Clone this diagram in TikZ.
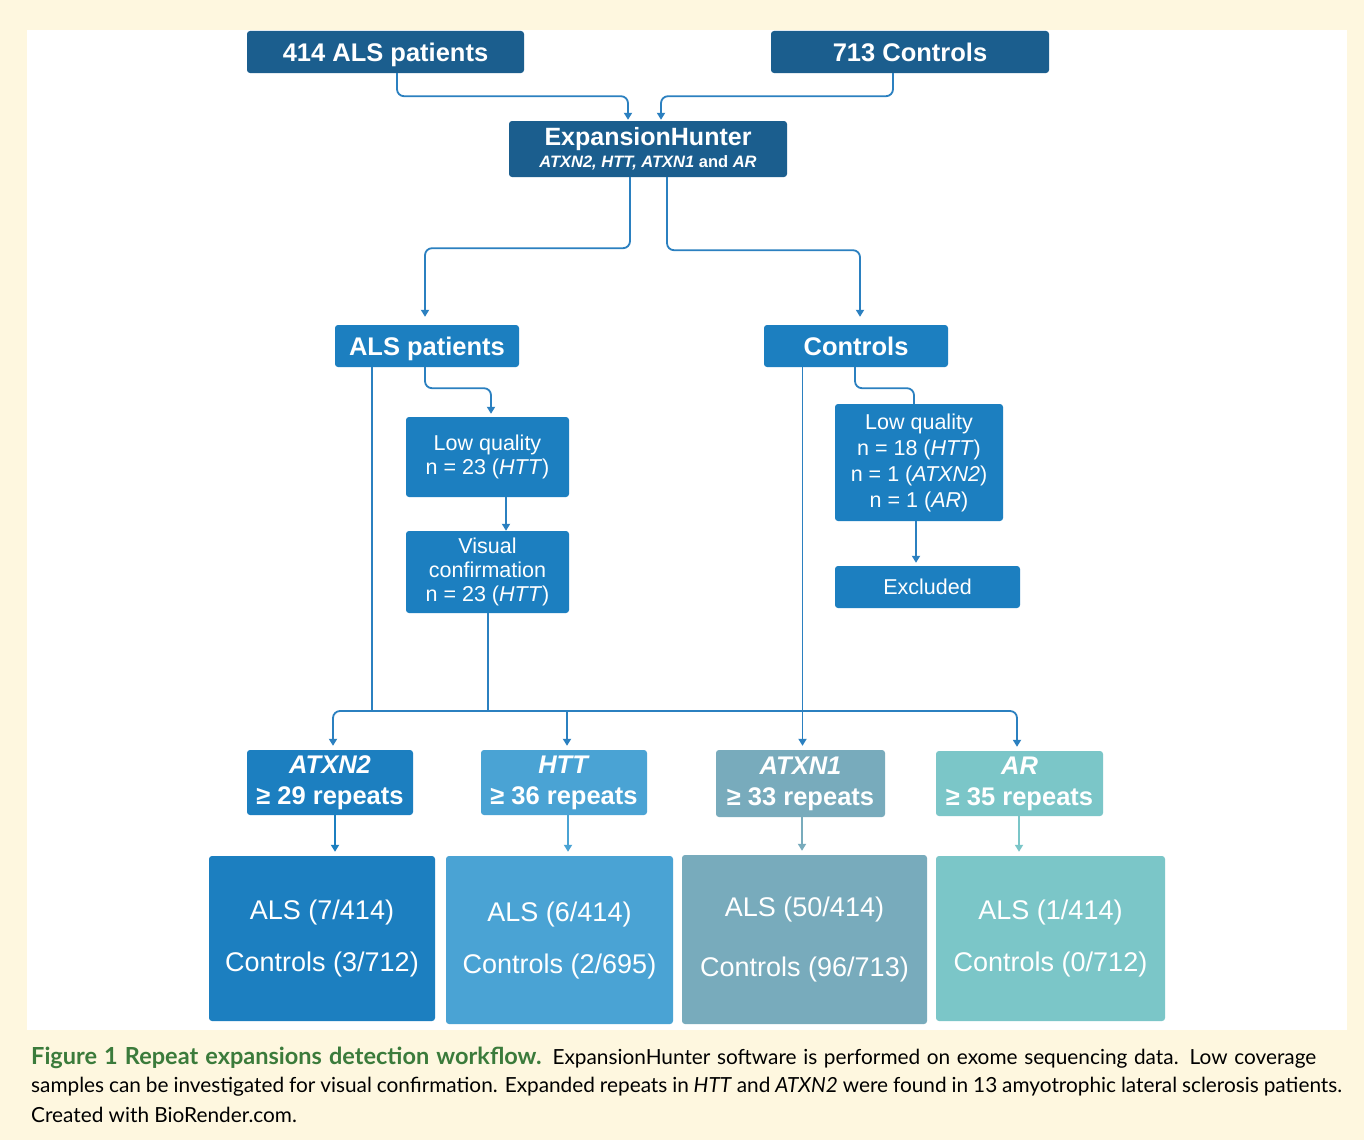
\documentclass[tikz,border=0pt]{standalone}
\usepackage{fontspec}
\setmainfont{Liberation Sans}
\newfontfamily\capfont{Lato}
\usetikzlibrary{arrows.meta}
\definecolor{cream}{HTML}{FEF7DF}
\definecolor{dblue}{HTML}{1B5E8E}
\definecolor{mblue}{HTML}{1C7FC0}
\definecolor{lblue}{HTML}{4AA3D4}
\definecolor{gteal}{HTML}{78ABBC}
\definecolor{lteal}{HTML}{7BC6C8}
\definecolor{capgreen}{HTML}{3B7B3B}
\definecolor{lineblue}{HTML}{2B80C0}
\tikzset{
  box/.style={fill=#1, draw=none, rounded corners=3pt, text=white, align=center, inner sep=0pt},
  conn/.style={draw=lineblue, line width=1.8pt, rounded corners=7pt},
  arr/.style={-{Triangle[width=8pt,length=7pt]}},
  hdr/.style={font=\fontsize{25.5}{30}\selectfont\bfseries, text height=18pt, text depth=0pt},
  small/.style={font=\fontsize{21.5}{#1}\selectfont},
  gene/.style={font=\fontsize{25.5}{31}\selectfont\bfseries},
  res/.style={font=\fontsize{27}{#1}\selectfont},
  capline/.style={anchor=west, inner sep=0pt, font=\capfont\fontsize{20.8}{24}\selectfont},
}
\begin{document}
\begin{tikzpicture}[x=1pt,y=-1pt]
\fill[cream] (0,0) rectangle (1364,1140);
\fill[white] (27,30) rectangle (1347,1030);
\useasboundingbox (0,0) rectangle (1364,1140);

% top
\node[box=dblue, hdr, minimum width=277pt, minimum height=42pt] (top1) at (385.5,52) {414 ALS patients};
\node[box=dblue, hdr, minimum width=278pt, minimum height=42pt] (top2) at (910,52) {713 Controls};
\node[box=dblue, minimum width=278pt, minimum height=56pt, font=\fontsize{25}{22}\selectfont\bfseries] (eh) at (648,149)
  {ExpansionHunter\\{\fontsize{16.5}{22}\selectfont\itshape ATXN2, HTT, ATXN1 \upshape and \itshape AR}};

% second level
\node[box=mblue, hdr, minimum width=184pt, minimum height=42pt] (als) at (427,346) {ALS patients};
\node[box=mblue, hdr, minimum width=184pt, minimum height=42pt] (ctl) at (856,346) {Controls};

\node[box=mblue, small=24, minimum width=163pt, minimum height=80pt] (lqa) at (487.5,457) {Low quality\\n = 23 (\textit{HTT})};
\node[box=mblue, small=24, minimum width=163pt, minimum height=82pt] (vis) at (487.5,572) {Visual\\confirmation\\n = 23 (\textit{HTT})};
\node[box=mblue, small=26, minimum width=168pt, minimum height=117pt] (lqc) at (919,462.5) {Low quality\\n = 18 (\textit{HTT})\\n = 1 (\textit{ATXN2})\\n = 1 (\textit{AR})};
\node[box=mblue, small=26, minimum width=185pt, minimum height=42pt] (exc) at (927.5,587) {Excluded};

% gene boxes
\node[box=mblue, gene, minimum width=166pt, minimum height=65pt] (g1) at (330,782.5) {\textit{ATXN2}\\≥ 29 repeats};
\node[box=lblue, gene, minimum width=166pt, minimum height=65pt] (g2) at (564,782.5) {\textit{HTT}\\≥ 36 repeats};
\node[box=gteal, gene, minimum width=169pt, minimum height=67pt] (g3) at (800.5,783.5) {\textit{ATXN1}\\≥ 33 repeats};
\node[box=lteal, gene, minimum width=167pt, minimum height=65pt] (g4) at (1019.5,783.5) {\textit{AR}\\≥ 35 repeats};

% result boxes
\node[box=mblue, res=52, minimum width=226pt, minimum height=165pt] (r1) at (322,938.5) {ALS (7/414)\\Controls (3/712)};
\node[box=lblue, res=52, minimum width=227pt, minimum height=168pt] (r2) at (559.5,940) {ALS (6/414)\\Controls (2/695)};
\node[box=gteal, res=60, minimum width=245pt, minimum height=169pt] (r3) at (804.5,939.5) {ALS (50/414)\\Controls (96/713)};
\node[box=lteal, res=52, minimum width=229pt, minimum height=165pt] (r4) at (1050.5,938.5) {ALS (1/414)\\Controls (0/712)};

% connectors top
\draw[conn, arr, shorten >=1pt] ([xshift=11.5pt]top1.south) -- ++(0,23) -| ([xshift=-20pt]eh.north);
\draw[conn, arr, shorten >=1pt] ([xshift=-17pt]top2.south) -- ++(0,23) -| ([xshift=13pt]eh.north);
\draw[conn, arr, shorten >=8pt] ([xshift=-18pt]eh.south) -- ++(0,71) -| ([xshift=-2pt]als.north);
\draw[conn, arr, shorten >=8pt] ([xshift=19pt]eh.south) -- ++(0,73) -| ([xshift=4pt]ctl.north);
\draw[conn, arr, shorten >=3pt] ([xshift=-2pt]als.south) -- ++(0,21) -| ([xshift=3.5pt]lqa.north);
\draw[conn, arr] ([xshift=18.5pt]lqa.south) -- ([xshift=18.5pt]vis.north);
\draw[conn] ([xshift=-1pt]ctl.south) -- ++(0,21) -| ([xshift=-5pt]lqc.north);
\draw[conn, arr, shorten >=3pt] ([xshift=-3pt]lqc.south) -- ([xshift=-3pt]lqc.south |- exc.north);

% bus
\coordinate (bus) at (0,711);
\draw[conn, {Triangle[width=8pt,length=7pt]}-{Triangle[width=8pt,length=7pt]}, shorten <=4pt, shorten >=4pt]
  ([xshift=3pt]g1.north) |- ([xshift=-2.5pt]g4.north |- bus) -- ([xshift=-2.5pt]g4.north);
\draw[conn, rounded corners=0pt] ([xshift=-55pt]als.south) -- ([xshift=-55pt]als.south |- bus);
\draw[conn, rounded corners=0pt] ([xshift=0.5pt]vis.south) -- ([xshift=0.5pt]vis.south |- bus);
\draw[conn, arr, shorten >=4pt] ([xshift=3pt]g2.north |- bus) -- ([xshift=3pt]g2.north);
\draw[conn, arr, shorten >=4pt] ([xshift=-53.5pt]ctl.south) -- ([xshift=-53.5pt]ctl.south |- g3.north);

% gene to result
\draw[conn, draw=mblue, arr, shorten >=4pt] ([xshift=5pt]g1.south) -- ([xshift=5pt]g1.south |- r1.north);
\draw[conn, draw=lblue, arr, shorten >=4pt] ([xshift=4pt]g2.south) -- ([xshift=4pt]g2.south |- r2.north);
\draw[conn, draw=gteal, arr, shorten >=4pt] ([xshift=1.5pt]g3.south) -- ([xshift=1.5pt]g3.south |- r3.north);
\draw[conn, draw=lteal, arr, shorten >=4pt] ([xshift=-0.5pt]g4.south) -- ([xshift=-0.5pt]g4.south |- r4.north);

% caption
\node[capline] (c1) at (31,1058) {\makebox[1285pt][s]{{\color{capgreen}\bfseries\fontsize{23.5}{24}\selectfont Figure 1 Repeat expansions detection workflow.} ExpansionHunter software is performed on exome sequencing data. Low coverage}};
\node[capline] (c2) at (31,1087) {\makebox[1311pt][s]{samples can be investigated for visual confirmation. Expanded repeats in \textit{HTT} and \textit{ATXN2} were found in 13 amyotrophic lateral sclerosis patients.}};
\node[capline] (c3) at (31,1115) {Created with BioRender.com.};
\end{tikzpicture}
\end{document}
